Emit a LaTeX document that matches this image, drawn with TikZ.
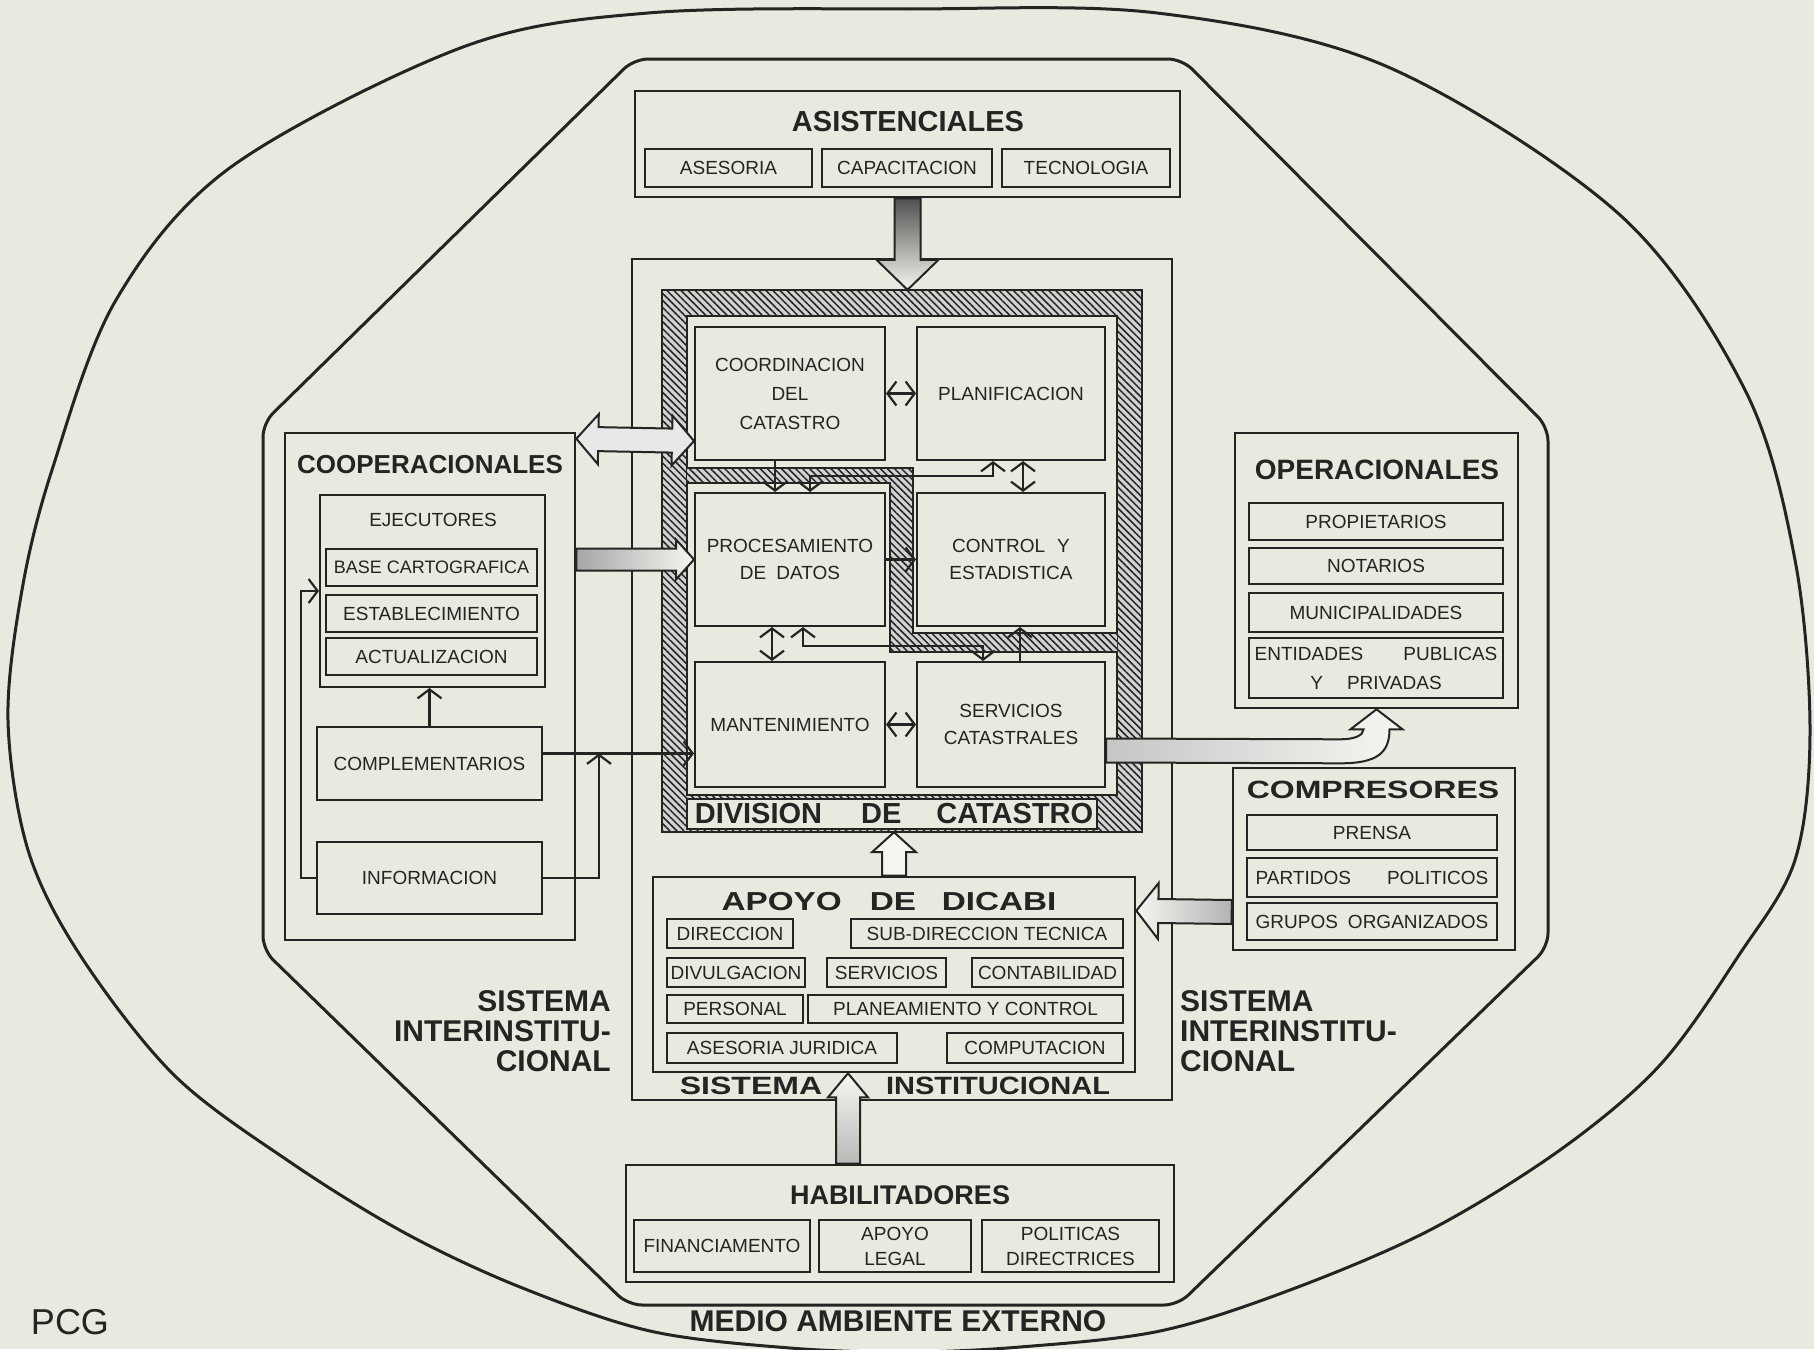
\documentclass[tikz,border=0pt]{standalone}
\usepackage{graphicx}
\usepackage{fontspec}
\setmainfont{Liberation Sans}
\usetikzlibrary{arrows.meta,calc,patterns.meta}

\definecolor{paper}{RGB}{232,233,223}
\definecolor{ink}{RGB}{36,36,34}
\definecolor{light}{RGB}{246,246,241}

\newcommand\lblfont{\fontsize{19}{27}\selectfont}

\tikzset{
  bx/.style={draw=ink, line width=2pt, inner sep=0pt, align=center, font=\lblfont, text=ink},
  grp/.style={line width=2.6pt},
  head/.style={inner sep=0pt, text=ink, font=\bfseries\fontsize{#1}{#1}\selectfont},
  head/.default=28,
  barb/.tip={Straight Barb[length=9pt,width=24pt]},
  conn/.style={draw=ink, line width=2.2pt, -barb},
  conn2/.style={draw=ink, line width=2.2pt, barb-barb},
  blockarr/.style={draw=ink, line width=2pt, line join=miter, fill=light},
  frame/.style={draw=ink, line width=1.8pt},
  hatch/.style={pattern={Lines[angle=-45,distance=5pt,line width=1.5pt]}, pattern color=ink},
}

% box from its corners: [options]{x1}{y1}{x2}{y2}{name}
\newcommand\boxat[6][]{\node[bx,#1,minimum width={#4-#2},minimum height={#5-#3}] (#6) at ({(#2+#4)/2},{(#3+#5)/2})}

% straight block arrow: [style]{from}{to}{shaft half width}{head half width}{head length}
\newcommand\blockarrow[6][]{%
  \path[blockarr,#1] let \p1=(#2), \p2=(#3),
    \n1={veclen(\x2-\x1,\y2-\y1)}, \n2={(\x2-\x1)/\n1}, \n3={(\y2-\y1)/\n1}
  in ({\x1-(\n3)*(#4)},{\y1+(\n2)*(#4)})
  -- ({\x2-(\n2)*(#6)-(\n3)*(#4)},{\y2-(\n3)*(#6)+(\n2)*(#4)})
  -- ({\x2-(\n2)*(#6)-(\n3)*(#5)},{\y2-(\n3)*(#6)+(\n2)*(#5)})
  -- (\p2)
  -- ({\x2-(\n2)*(#6)+(\n3)*(#5)},{\y2-(\n3)*(#6)-(\n2)*(#5)})
  -- ({\x2-(\n2)*(#6)+(\n3)*(#4)},{\y2-(\n3)*(#6)-(\n2)*(#4)})
  -- ({\x1+(\n3)*(#4)},{\y1-(\n2)*(#4)}) -- cycle;}

% block arrow with a head at both ends
\newcommand\dblockarrow[6][]{%
  \path[blockarr,#1] let \p1=(#2), \p2=(#3),
    \n1={veclen(\x2-\x1,\y2-\y1)}, \n2={(\x2-\x1)/\n1}, \n3={(\y2-\y1)/\n1}
  in (\p1)
  -- ({\x1+(\n2)*(#6)-(\n3)*(#5)},{\y1+(\n3)*(#6)+(\n2)*(#5)})
  -- ({\x1+(\n2)*(#6)-(\n3)*(#4)},{\y1+(\n3)*(#6)+(\n2)*(#4)})
  -- ({\x2-(\n2)*(#6)-(\n3)*(#4)},{\y2-(\n3)*(#6)+(\n2)*(#4)})
  -- ({\x2-(\n2)*(#6)-(\n3)*(#5)},{\y2-(\n3)*(#6)+(\n2)*(#5)})
  -- (\p2)
  -- ({\x2-(\n2)*(#6)+(\n3)*(#5)},{\y2-(\n3)*(#6)-(\n2)*(#5)})
  -- ({\x2-(\n2)*(#6)+(\n3)*(#4)},{\y2-(\n3)*(#6)-(\n2)*(#4)})
  -- ({\x1+(\n2)*(#6)+(\n3)*(#4)},{\y1+(\n3)*(#6)-(\n2)*(#4)})
  -- ({\x1+(\n2)*(#6)+(\n3)*(#5)},{\y1+(\n3)*(#6)-(\n2)*(#5)}) -- cycle;}

% wide bold caption
\newcommand\widecap[2][1.28]{\scalebox{#1}[1]{#2}}

\begin{document}
\begin{tikzpicture}[x=1pt,y=-1pt]
\fill[paper] (0,0) rectangle (1814,1349);
\useasboundingbox (0,0) rectangle (1814,1349);

% external environment
\draw[ink, line width=3pt] plot[smooth cycle, tension=0.55] coordinates {
  (907,9) (1157,13) (1388,67) (1620,215) (1745,390) (1795,560) (1810,730)
  (1795,860) (1739,955) (1660,1065) (1560,1150) (1430,1230) (1290,1290)
  (1160,1331) (1020,1347) (907,1352) (790,1348) (650,1331) (520,1287)
  (405,1233) (290,1162) (174,1075) (80,955) (28,850) (8,720) (22,590)
  (52,470) (116,300) (231,167) (463,47) (648,13)};

% inter-institutional system
\draw[ink, line width=3pt, rounded corners=14pt]
  (634,59) -- (1182,59) -- (1548,427) -- (1548,947) -- (1178,1305)
  -- (628,1305) -- (263,950) -- (263,423) -- cycle;

% institutional system
\boxat[grp]{632}{259}{1172}{1100}{inst}{};

% cadastre division: hatched frame
\fill[gray!35] (662,290) rectangle (1142,832);
\fill[hatch] (662,290) rectangle (1142,832);
\fill[paper] (687,316) rectangle (1117,795);
\fill[paper] (687,799) rectangle (1097,829);
\draw[frame] (662,290) rectangle (1142,832);
\draw[frame] (687,316) rectangle (1117,795);
\draw[frame] (687,799) rectangle (1097,829);
\fill[gray!35] (687,468) -- (913,468) -- (913,633) -- (1117,633) -- (1117,652) -- (890,652) -- (890,483) -- (687,483) -- cycle;
\fill[hatch] (687,468) -- (913,468) -- (913,633) -- (1117,633) -- (1117,652) -- (890,652) -- (890,483) -- (687,483) -- cycle;
\draw[frame] (687,468) -- (913,468) -- (913,633) -- (1117,633) (1117,652) -- (890,652) -- (890,483) -- (687,483);
\node[inner sep=0pt, minimum width=480, minimum height=542] (div) at (902,561) {};
\node[head=29] (divT) at (894,814) {DIVISION\hspace{39pt}DE\hspace{35pt}CATASTRO};

\boxat[font=\fontsize{19}{29}\selectfont]{695}{327}{885}{460}{coord}{COORDINACION\\DEL\\CATASTRO};
\boxat{917}{327}{1105}{460}{plan}{PLANIFICACION};
\boxat{695}{493}{885}{626}{proc}{PROCESAMIENTO\\DE\hspace{10pt}DATOS};
\boxat{917}{493}{1105}{626}{control}{CONTROL\hspace{12pt}Y\\ESTADISTICA};
\boxat{695}{662}{885}{787}{mant}{MANTENIMIENTO};
\boxat{917}{662}{1105}{787}{serv}{SERVICIOS\\CATASTRALES};

\draw[conn2] (coord.east) -- (plan.west);
\draw[conn] ($(coord.south)+(-15,0)$) -- ($(proc.north)+(-15,0)$);
\draw[conn2] ($(proc.north)+(20,0)$) -- ++(0,-16) -| ($(plan.south)+(-18,0)$);
\draw[conn2] ($(plan.south)+(12,0)$) -- ($(control.north)+(12,0)$);
\draw[conn] (proc.east) -- (control.west);
\draw[conn2] ($(proc.south)+(-18,0)$) -- ($(mant.north)+(-18,0)$);
\draw[conn2] ($(proc.south)+(13,0)$) -- ++(0,19) -| ($(serv.north)+(-28,0)$);
\draw[conn] ($(serv.north)+(9,0)$) -- ($(control.south)+(9,0)$);
\draw[conn2] (mant.east) -- (serv.west);

% assistance
\boxat[grp]{635}{91}{1180}{197}{asist}{};
\node[head=29] (asistT) at (908,122) {ASISTENCIALES};
\boxat{645}{149}{812}{187}{ases}{ASESORIA};
\boxat{822}{149}{992}{187}{capac}{CAPACITACION};
\boxat{1002}{149}{1170}{187}{tecno}{TECNOLOGIA};

% DICABI support
\boxat[grp]{653}{877}{1135}{1072}{apoyo}{};
\node[head=26] (apoyoT) at (889,902) {\widecap{APOYO\hspace{22pt}DE\hspace{20pt}DICABI}};
\boxat{667}{919}{793}{948}{direc}{DIRECCION};
\boxat{851}{919}{1123}{948}{subdir}{SUB-DIRECCION TECNICA};
\boxat{667}{958}{805}{987}{divul}{DIVULGACION};
\boxat{827}{958}{946}{987}{servi}{SERVICIOS};
\boxat{972}{958}{1123}{987}{conta}{CONTABILIDAD};
\boxat{667}{995}{803}{1023}{perso}{PERSONAL};
\boxat{808}{995}{1123}{1023}{plane}{PLANEAMIENTO Y CONTROL};
\boxat{667}{1033}{897}{1063}{jurid}{ASESORIA JURIDICA};
\boxat{947}{1033}{1123}{1063}{compu}{COMPUTACION};
\node[head=25] (instA) at (751,1086) {\widecap{SISTEMA}};
\node[head=25] (instB) at (998,1086) {\widecap[1.16]{INSTITUCIONAL}};

% enabling
\boxat[grp]{626}{1165}{1174}{1282}{habil}{};
\node[head=27] (habilT) at (900,1195) {HABILITADORES};
\boxat{634}{1220}{810}{1272}{finan}{FINANCIAMENTO};
\boxat[font=\fontsize{19}{25}\selectfont]{819}{1220}{971}{1272}{legal}{APOYO\\LEGAL};
\boxat[font=\fontsize{19}{25}\selectfont]{982}{1220}{1159}{1272}{polit}{POLITICAS\\DIRECTRICES};

% cooperating
\boxat[grp]{285}{433}{575}{940}{coop}{};
\node[head=26] (coopT) at (430,465) {COOPERACIONALES};
\boxat{320}{495}{545}{687}{ejec}{};
\node[inner sep=0pt, font=\lblfont, text=ink] (ejecT) at (433,520) {EJECUTORES};
\boxat[font=\fontsize{18}{20}\selectfont]{326}{549}{537}{586}{basec}{BASE CARTOGRAFICA};
\boxat{326}{595}{537}{632}{estab}{ESTABLECIMIENTO};
\boxat{326}{638}{537}{675}{actual}{ACTUALIZACION};
\boxat{317}{727}{542}{800}{compl}{COMPLEMENTARIOS};
\boxat{317}{842}{542}{914}{info}{INFORMACION};

\draw[conn] (compl.north) -- (compl.north |- ejec.south);
\draw[conn] (info.west) -- ++(-15,0) |- (ejec.west);
\draw[conn] ($(compl.east)+(0,-10)$) coordinate (c1) -- (c1 -| mant.west);
\draw[conn] (info.east) -- ++(56,0) coordinate (i1) -- (i1 |- c1);

% operating
\boxat[grp]{1235}{433}{1518}{708}{oper}{};
\node[head=28] (operT) at (1377,470) {OPERACIONALES};
\boxat{1249}{503}{1503}{540}{propi}{PROPIETARIOS};
\boxat{1249}{548}{1503}{584}{notar}{NOTARIOS};
\boxat{1249}{593}{1503}{632}{munic}{MUNICIPALIDADES};
\boxat[font=\fontsize{19}{29}\selectfont]{1249}{638}{1503}{698}{entid}{ENTIDADES\hspace{40pt}PUBLICAS\\Y\hspace{24pt}PRIVADAS};

% pressure groups
\boxat[grp]{1233}{768}{1515}{950}{compr}{};
\node[head=25] (comprT) at (1373,790) {\widecap{COMPRESORES}};
\boxat{1247}{815}{1497}{850}{prensa}{PRENSA};
\boxat{1247}{858}{1497}{897}{parti}{PARTIDOS\hspace{36pt}POLITICOS};
\boxat{1247}{903}{1497}{940}{grupo}{GRUPOS\hspace{10pt}ORGANIZADOS};

% labels of the systems
\node[head=30, align=right, anchor=east] (sysL) at (611,1031) {SISTEMA\\INTERINSTITU-\\CIONAL};
\node[head=30, align=left, anchor=west] (sysR) at (1180,1031) {SISTEMA\\INTERINSTITU-\\CIONAL};
\node[head=30] (medio) at (898,1321) {MEDIO AMBIENTE EXTERNO};
\node[inner sep=0pt, text=ink, font=\fontsize{36}{36}\selectfont] (pcg) at (70,1322) {PCG};

% block arrows
\blockarrow[top color=ink!80, bottom color=light]{asist.south}{asist.south |- div.north}{13}{31}{30}
\dblockarrow[fill=gray!18]{$(coop.north east)+(0,7)$}{$(coord.south west)+(0,-20)$}{12}{25}{22}
\blockarrow[left color=gray!70, right color=light]{coop.east |- proc.west}{proc.west}{11}{20}{18}
\blockarrow[left color=light, right color=gray!60]{$(compr.west)+(0,53)$}{$(apoyo.north east)+(0,35)$}{12}{28}{22}
\blockarrow{apoyo.north}{apoyo.north |- div.south}{12}{22}{20}
\blockarrow[top color=light, bottom color=gray!55]{$(habil.north)+(-52,0)$}{$(apoyo.south)+(-46,0)$}{12}{20}{24}
\path[blockarr, left color=gray!45, right color=light]
  ($(serv.east)+(0,14)$) -- ($(oper.south)+(-36,30)$)
  .. controls ($(oper.south)+(-22,30)$) and ($(oper.south)+(-13,26)$) .. ($(oper.south)+(-13,20)$)
  -- ($(oper.south)+(-26,20)$) -- (oper.south) -- ($(oper.south)+(26,20)$) -- ($(oper.south)+(13,20)$)
  .. controls ($(oper.south)+(13,44)$) and ($(oper.south)+(0,54)$) .. ($(oper.south)+(-36,54)$)
  -- ($(serv.east)+(0,38)$) -- cycle;
\end{tikzpicture}
\end{document}
